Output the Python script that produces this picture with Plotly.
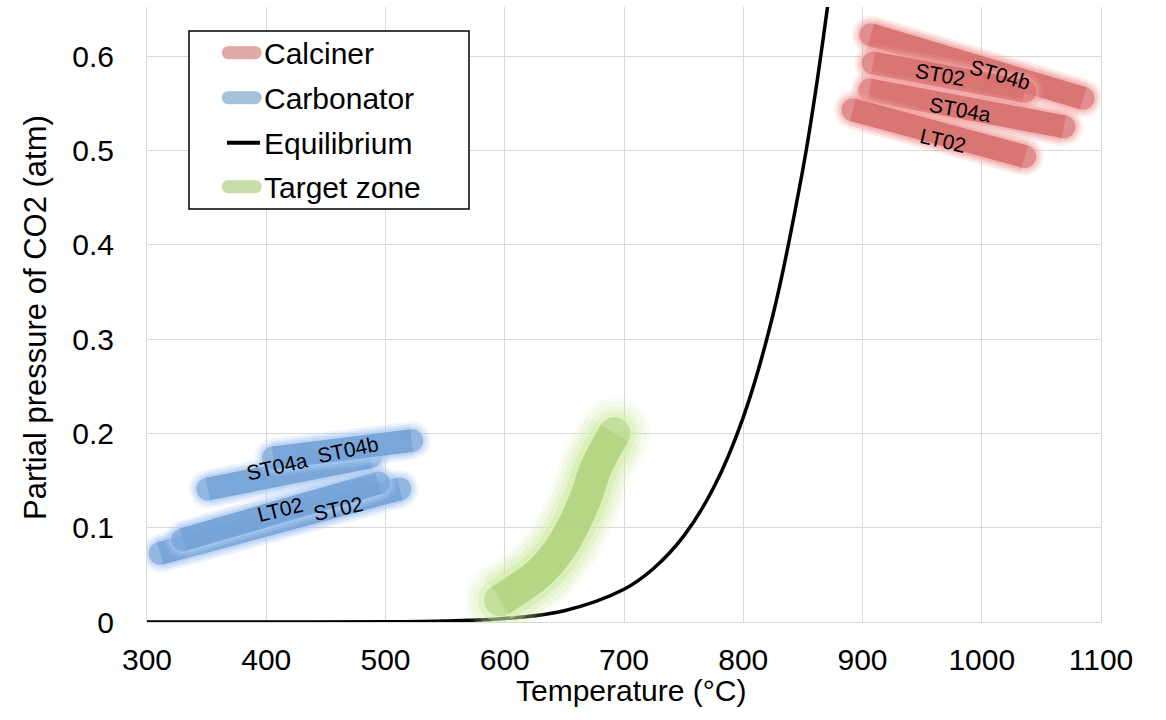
import plotly.graph_objects as go

# ---------------- data ----------------
calciner_names = ["ST04b", "ST02", "ST04a", "LT02"]
calciner_T = [[907, 1085], [909, 1036], [906, 1069], [892, 1036]]
calciner_p = [[0.6225, 0.5553], [0.5925, 0.5625], [0.564, 0.525], [0.543, 0.4935]]

carbonator_names = ["ST02", "LT02", "ST04a", "ST04b"]
carbonator_T = [[311, 512], [330, 494], [351, 487], [406, 522]]
carbonator_p = [[0.0728, 0.141], [0.0873, 0.1474], [0.141, 0.175], [0.174, 0.1923]]

equil_T = [300, 400, 500, 550, 600, 650, 700, 725, 750, 775, 800, 825, 850, 860, 870, 875]
equil_p = [0.0, 0.00001, 0.0002, 0.001, 0.0037, 0.012, 0.0347, 0.057, 0.091, 0.142,
           0.217, 0.326, 0.48, 0.557, 0.646, 0.695]

target_T = [596, 612, 629, 645, 657, 668, 677, 692]
target_p = [0.023, 0.036, 0.052, 0.075, 0.101, 0.132, 0.165, 0.200]

# data-label positions (T, p, angle)
calc_label_T = [1015, 964.7, 981.5, 967.5]
calc_label_p = [0.580, 0.580, 0.543, 0.511]
calc_label_angle = [16, 10, 10, 13]
carb_label_T = [460.4, 411.5, 408.7, 468.8]
carb_label_p = [0.1206, 0.1188, 0.1647, 0.1824]
carb_label_angle = [-12, -14, -13, -12]

legend_names = ["Calciner", "Carbonator", "Equilibrium", "Target zone"]
x_title = "Temperature (°C)"
y_title = "Partial pressure of CO2 (atm)"

# ---------------- styles ----------------
W, H = 1166, 720
ML, MR, MT, MB = 147, 65, 7, 98
PW, PH = W - ML - MR, H - MT - MB
BAND_W = 23
GREEN_W = 32
FONT = "Liberation Sans, Arial, sans-serif"
FS = 30

red_core, red_glow, red_leg = "#d56e6c", "#f2a2a1", "#e0a8a6"
blue_core, blue_glow, blue_leg = "#72a0d6", "#abcbf2", "#a7c0de"
green_core, green_glow, green_leg = "#b0d27c", "#d2eca6", "#c8dca8"


def px_x(px):
    return (px - ML) / PW


def px_y(py):
    return (H - MB - py) / PH


fig = go.Figure()


def band(xs, ys, core, glow, w, glow_layers, core_op=0.88, spline=False):
    n = len(xs)
    for extra, op in glow_layers:
        size = [w + extra if i in (0, n - 1) else 0 for i in range(n)]
        fig.add_trace(go.Scatter(
            x=xs, y=ys, mode="lines+markers", showlegend=False, hoverinfo="skip",
            opacity=op,
            line=dict(color=glow, width=w + extra, shape="spline" if spline else "linear"),
            marker=dict(color=glow, size=size, line=dict(width=0))))
    size = [w if i in (0, n - 1) else 0 for i in range(n)]
    fig.add_trace(go.Scatter(
        x=xs, y=ys, mode="lines+markers", showlegend=False, hoverinfo="skip",
        opacity=core_op,
        line=dict(color=core, width=w, shape="spline" if spline else "linear"),
        marker=dict(color=core, size=size, line=dict(width=0))))


glow_std = [(15, 0.22), (10, 0.35), (5, 0.55)]

for xs, ys in zip(calciner_T, calciner_p):
    band(xs, ys, red_core, red_glow, BAND_W, glow_std)

for xs, ys in zip(carbonator_T, carbonator_p):
    band(xs, ys, blue_core, blue_glow, BAND_W, glow_std)

# equilibrium curve
fig.add_trace(go.Scatter(x=equil_T, y=equil_p, mode="lines", showlegend=False,
                         hoverinfo="skip", line=dict(color="black", width=3.5, shape="spline")))

# target zone
band(target_T, target_p, green_core, green_glow, GREEN_W,
     [(40, 0.14), (32, 0.2), (22, 0.3), (12, 0.5)], core_op=0.85, spline=True)

annotations = []
for name, x, y, a in zip(calciner_names, calc_label_T, calc_label_p, calc_label_angle):
    annotations.append(dict(x=x, y=y, text=name, showarrow=False, textangle=a,
                            font=dict(family=FONT, size=21, color="black")))
for name, x, y, a in zip(carbonator_names, carb_label_T, carb_label_p, carb_label_angle):
    annotations.append(dict(x=x, y=y, text=name, showarrow=False, textangle=a,
                            font=dict(family=FONT, size=21, color="black")))

# axis titles
annotations.append(dict(xref="paper", yref="paper", x=px_x(631), y=px_y(690),
                        xanchor="center", yanchor="middle", text=x_title, showarrow=False,
                        font=dict(family=FONT, size=FS, color="black")))
annotations.append(dict(xref="paper", yref="paper", x=px_x(36), y=px_y(318),
                        xanchor="center", yanchor="middle", text=y_title, showarrow=False,
                        textangle=-90, font=dict(family=FONT, size=31, color="black")))

# ---------------- legend (drawn as shapes + text) ----------------
shapes = [dict(type="rect", xref="paper", yref="paper",
               x0=px_x(189), x1=px_x(469), y0=px_y(209), y1=px_y(31),
               fillcolor="white", line=dict(color="black", width=1.5), layer="above")]
leg_y = [52.7, 97.7, 142.7, 186.7]
leg_col = [red_leg, blue_leg, "black", green_leg]
for name, cy, col in zip(legend_names, leg_y, leg_col):
    if col == "black":
        shapes.append(dict(type="line", xref="paper", yref="paper",
                           x0=px_x(227), x1=px_x(260), y0=px_y(cy), y1=px_y(cy),
                           line=dict(color="black", width=4), layer="above"))
    else:
        r = 6.5
        shapes.append(dict(type="line", xref="paper", yref="paper",
                           x0=px_x(228.2), x1=px_x(255.2), y0=px_y(cy), y1=px_y(cy),
                           line=dict(color=col, width=13), layer="above"))
        for cx in (228.2, 255.2):
            shapes.append(dict(type="circle", xref="paper", yref="paper",
                               x0=px_x(cx - r), x1=px_x(cx + r),
                               y0=px_y(cy + r), y1=px_y(cy - r),
                               fillcolor=col, line=dict(width=0), layer="above"))
    annotations.append(dict(xref="paper", yref="paper", x=px_x(262), y=px_y(cy + 1),
                            xanchor="left", yanchor="middle", text=name, showarrow=False,
                            font=dict(family=FONT, size=FS, color="black")))

GRID = "#d9d9d9"
fig.update_layout(
    width=W, height=H,
    margin=dict(l=ML, r=MR, t=MT, b=MB),
    paper_bgcolor="white", plot_bgcolor="white",
    font=dict(family=FONT, size=FS, color="black"),
    showlegend=False,
    annotations=annotations,
    shapes=shapes,
    xaxis=dict(range=[300, 1100], dtick=100, tick0=300, showgrid=True, gridcolor=GRID,
               gridwidth=1, zeroline=False, showline=True, linecolor=GRID, ticks="",
               ticklabelstandoff=11,
               tickfont=dict(family=FONT, size=FS)),
    yaxis=dict(range=[0, 0.652], dtick=0.1, tick0=0, showgrid=True, gridcolor=GRID,
               gridwidth=1, zeroline=False, showline=True, mirror=True, linecolor=GRID,
               ticks="", ticklabelstandoff=26,
               tickfont=dict(family=FONT, size=FS)),
)

fig.write_html("out.html")
